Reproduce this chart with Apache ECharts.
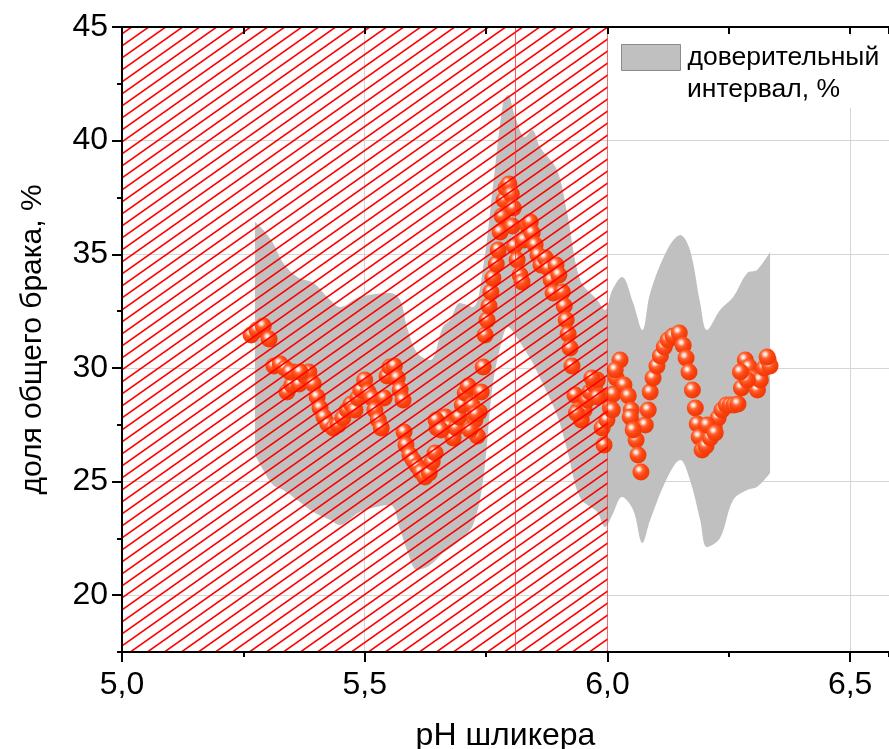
<!DOCTYPE html>
<html><head><meta charset="utf-8">
<script src="https://cdn.jsdelivr.net/npm/echarts@6/dist/echarts.min.js"></script>
<style>html,body{margin:0;padding:0;background:#fff}#c{width:889px;height:749px}</style>
</head><body><div id="c"></div>
<script>
// ---- data ----
const pointsX = [
5.266,5.278,5.291,5.303,5.313,5.326,5.336,5.340,5.350,5.354,
5.365,5.377,5.385,5.394,5.402,5.408,5.416,5.424,5.435,5.445,
5.455,5.464,5.472,5.480,5.486,5.492,5.500,5.507,5.515,5.521,
5.528,5.534,5.540,5.546,5.552,5.561,5.567,5.573,5.579,5.581,
5.585,5.593,5.600,5.608,5.616,5.624,5.633,5.639,5.645,5.649,
5.657,5.666,5.674,5.682,5.688,5.694,5.701,5.707,5.713,5.721,
5.727,5.732,5.736,5.740,5.744,5.748,5.752,5.756,5.760,5.764,
5.771,5.775,5.779,5.783,5.787,5.791,5.797,5.802,5.806,5.804,
5.808,5.814,5.820,5.824,5.828,5.835,5.841,5.845,5.851,5.857,
5.863,5.872,5.878,5.884,5.888,5.894,5.900,5.907,5.911,5.915,
5.919,5.923,5.927,5.933,5.940,5.946,5.952,5.958,5.964,5.973,
5.979,5.985,5.989,5.993,5.999,6.006,6.012,6.018,6.026,6.034,
6.043,6.049,6.055,6.059,6.063,6.069,6.078,6.084,6.088,6.094,
6.102,6.109,6.117,6.125,6.135,6.148,6.156,6.162,6.168,6.175,
6.181,6.185,6.189,6.195,6.203,6.212,6.220,6.228,6.236,6.245,
6.253,6.261,6.269,6.276,6.280,6.284,6.292,6.300,6.309,6.315,
6.323,6.331,6.335,
5.346,5.367,5.647,5.657,5.717,5.729,5.968,5.979,5.936,6.010,
6.016,6.047,6.053,6.288,6.329,6.274,6.205,6.222
];
const pointsY = [
31.45,31.67,31.84,31.27,30.08,30.17,29.99,28.94,29.25,29.82,
29.29,29.64,29.82,29.29,28.72,28.24,27.84,27.53,27.36,27.49,
27.80,28.15,28.41,28.15,28.68,29.03,29.47,28.94,28.68,28.15,
27.71,27.36,28.68,29.64,30.04,30.08,29.56,29.03,28.59,27.18,
26.61,26.17,25.95,25.68,25.42,25.20,25.38,25.86,26.26,27.36,
27.71,27.84,27.40,26.92,27.36,27.84,28.37,28.90,29.20,28.37,
27.71,27.00,28.06,28.94,30.04,31.45,32.11,32.72,33.34,33.96,
34.57,35.19,35.98,36.68,37.39,37.92,38.09,37.65,37.04,36.24,
35.36,34.75,34.09,33.78,35.63,36.29,36.42,35.94,35.41,34.97,
34.53,34.84,34.40,33.87,33.30,34.53,34.09,33.34,32.72,32.11,
31.49,30.88,30.08,28.81,28.15,27.71,28.15,28.59,28.94,29.25,
29.47,28.77,27.36,26.61,27.71,28.24,28.85,29.56,30.35,29.25,
28.77,28.15,27.49,26.83,26.17,25.42,27.49,28.15,28.94,29.56,
30.08,30.52,30.92,31.23,31.40,31.54,31.00,30.44,29.82,29.03,
28.24,27.53,26.96,26.39,26.56,26.92,27.36,27.80,28.15,28.37,
28.37,28.37,28.41,29.12,29.82,30.35,30.04,29.56,29.03,29.47,
30.00,30.35,30.08,
29.82,29.82,27.71,27.27,27.27,27.97,29.56,28.72,28.02,28.15,
29.91,27.84,27.27,29.47,30.48,29.82,27.49,27.14
];
const bandX = [5.274,5.291,5.311,5.332,5.361,5.394,5.429,5.449,5.490,5.552,
5.573,5.587,5.608,5.635,5.661,5.676,5.696,5.723,5.744,5.764,
5.785,5.795,5.810,5.830,5.845,5.861,5.896,5.917,5.944,5.979,
5.995,6.010,6.030,6.053,6.072,6.088,6.123,6.150,6.170,6.191,
6.205,6.232,6.259,6.288,6.308,6.335];
const bandUpper = [36.42,36.07,35.50,34.62,34.00,33.74,32.99,32.68,33.12,33.30,
32.99,31.80,30.66,30.35,31.80,32.11,32.86,32.68,34.44,37.96,
41.66,42.01,41.04,40.16,40.47,39.72,38.71,36.82,33.87,32.99,
32.55,33.43,34.00,32.86,31.67,33.30,35.19,35.85,35.19,32.86,
31.67,32.55,33.12,34.18,34.31,35.10];
const bandLower = [26.17,25.51,24.85,24.63,24.19,23.66,23.31,23.09,23.66,23.97,
22.87,21.99,21.11,21.33,21.86,22.08,22.43,23.09,25.07,29.30,
31.40,31.80,31.45,30.79,30.26,29.56,27.93,26.39,24.28,23.66,
23.00,23.53,24.32,23.75,22.30,23.31,25.16,25.95,25.07,23.31,
22.12,22.52,24.19,24.63,24.76,25.38];
const hatchRange = [5.0, 6.0];
const redLineX = 5.808;
const xRange = [5.0, 6.58];
const yRange = [17.5, 45];
const xName = 'pH шликера';
const yName = 'доля общего брака, %';
const bandName = 'доверительный интервал, %';
const legendLines = ['доверительный', 'интервал, %'];

// ---- helpers ----
const FONT = '"Liberation Sans", Arial, sans-serif';
function makeHatch() {
  const w = 17, h = 12;
  const c = document.createElement('canvas');
  c.width = w; c.height = h;
  const g = c.getContext('2d');
  g.strokeStyle = '#ff0000';
  g.lineWidth = 1.6;
  for (let n = 0; n <= 2; n++) {
    g.beginPath();
    g.moveTo(n * w + w, -h);
    g.lineTo(n * w - 2 * w, 2 * h);
    g.stroke();
  }
  return c;
}
const fmtX = v => v.toFixed(1).replace('.', ',');

const chart = echarts.init(document.getElementById('c'), null, {renderer: 'canvas'});
const option = {
  animation: false,
  backgroundColor: '#fff',
  grid: {left: 122, top: 27, right: 0, bottom: 97, containLabel: false, outerBoundsMode: 'none'},
  xAxis: [
    { type: 'value', min: xRange[0], max: xRange[1], interval: 0.5, position: 'bottom', z: 10,
      axisLine: {show: true, lineStyle: {color: '#000', width: 2}},
      axisTick: {show: true, inside: false, length: 10, lineStyle: {color: '#000', width: 2}},
      axisLabel: {show: true, formatter: fmtX, fontSize: 32, fontFamily: FONT, color: '#000', margin: 17, showMaxLabel: false},
      splitLine: {show: false},
      name: xName, nameLocation: 'middle', nameGap: 68,
      nameTextStyle: {fontSize: 32, fontFamily: FONT, color: '#000'} },
    { type: 'value', min: xRange[0], max: xRange[1], interval: 0.25, position: 'bottom', z: 10,
      axisLine: {show: false},
      axisTick: {show: true, inside: false, length: 5, lineStyle: {color: '#000', width: 2}},
      axisLabel: {show: false}, splitLine: {show: false} },
    { type: 'value', min: xRange[0], max: xRange[1], interval: 0.25, position: 'top', z: 10,
      axisLine: {show: true, lineStyle: {color: '#000', width: 2}},
      axisTick: {show: true, inside: true, length: 7, lineStyle: {color: '#000', width: 2}},
      axisLabel: {show: false}, splitLine: {show: false} },
    { type: 'value', min: xRange[0], max: xRange[1], interval: 0.5, position: 'bottom', z: 0,
      axisLine: {show: false}, axisTick: {show: false}, axisLabel: {show: false},
      splitLine: {show: true, lineStyle: {color: '#d6d6d6', width: 1}} }
  ],
  yAxis: [
    { type: 'value', min: yRange[0], max: yRange[1], splitNumber: 5, position: 'left', z: 10,
      axisLine: {show: true, lineStyle: {color: '#000', width: 2}},
      axisTick: {show: true, inside: false, length: 10, lineStyle: {color: '#000', width: 2}},
      axisLabel: {show: true, fontSize: 32, fontFamily: FONT, color: '#000', margin: 14, showMinLabel: false},
      splitLine: {show: false},
      name: yName, nameLocation: 'middle', nameGap: 74,
      nameTextStyle: {fontSize: 30, fontFamily: FONT, color: '#000'} },
    { type: 'value', min: yRange[0], max: yRange[1], interval: 2.5, position: 'left', z: 10,
      axisLine: {show: false},
      axisTick: {show: true, inside: false, length: 5, lineStyle: {color: '#000', width: 2}},
      axisLabel: {show: false}, splitLine: {show: false} },
    { type: 'value', min: yRange[0], max: yRange[1], splitNumber: 5, position: 'left', z: 0,
      axisLine: {show: false}, axisTick: {show: false}, axisLabel: {show: false},
      splitLine: {show: true, lineStyle: {color: '#d6d6d6', width: 1}} }
  ],
  legend: {
    data: [{name: bandName, icon: 'rect', itemStyle: {color: '#c0c0c0', borderColor: '#8c8c8c', borderWidth: 1}}],
    left: 621, top: 44, padding: 0, itemWidth: 59, itemHeight: 26,
    selectedMode: false, z: 6,
    formatter: () => legendLines[0],
    textStyle: {fontSize: 26.5, fontFamily: FONT, color: '#000', padding: [0, 0, 0, 2]}
  },
  graphic: [
    {type: 'rect', shape: {x: 612, y: 36, width: 277, height: 72}, style: {fill: '#fff'}, z: 3, silent: true},
    {type: 'text', left: 687, top: 76, z: 7, silent: true,
     style: {text: legendLines[1], font: '26.5px ' + FONT, fill: '#000'}}
  ],
  series: [
    // lower bound (stack base). Columns are [y, x] so the stack runs on y.
    { type: 'line', name: '_lower', xAxisIndex: 0, yAxisIndex: 0, stack: 'band', smooth: 0.35,
      symbol: 'none', silent: true, z: 2, encode: {x: 1, y: 0},
      lineStyle: {width: 0, opacity: 0},
      data: bandX.map((x, i) => [bandLower[i], x]) },
    { type: 'line', name: bandName, xAxisIndex: 0, yAxisIndex: 0, stack: 'band', smooth: 0.35,
      symbol: 'none', silent: true, z: 2, color: '#c0c0c0', encode: {x: 1, y: 0},
      lineStyle: {width: 0, opacity: 0},
      itemStyle: {color: '#c0c0c0'},
      areaStyle: {color: '#c0c0c0', opacity: 1},
      data: bandX.map((x, i) => [bandUpper[i] - bandLower[i], x]) },
    { type: 'scatter', name: 'points', xAxisIndex: 0, yAxisIndex: 0, z: 3, silent: true,
      symbol: 'circle', symbolSize: 17,
      itemStyle: {opacity: 1, color: {type: 'radial', x: 0.38, y: 0.34, r: 0.66, colorStops: [
        {offset: 0, color: '#ffffff'}, {offset: 0.13, color: '#ffe0d4'},
        {offset: 0.36, color: '#ff6432'}, {offset: 0.62, color: '#fb4410'}, {offset: 1, color: '#ee3806'}]}},
      data: pointsX.map((x, i) => [x, pointsY[i]]),
      markArea: {
        silent: true, z: 5,
        emphasis: {disabled: true},
        itemStyle: {color: {image: makeHatch(), repeat: 'repeat'}, borderColor: '#ff0000', borderWidth: 1, borderType: 'dotted', opacity: 1},
        data: [[{xAxis: hatchRange[0]}, {xAxis: hatchRange[1]}]]
      },
      markLine: {
        silent: true, z: 6, symbol: ['none', 'none'],
        label: {show: false}, emphasis: {disabled: true},
        lineStyle: {color: '#ff3030', width: 1, type: 'solid', opacity: 0.8},
        data: [{xAxis: redLineX}]
      }
    }
  ]
};
chart.setOption(option);
</script>
</body></html>
